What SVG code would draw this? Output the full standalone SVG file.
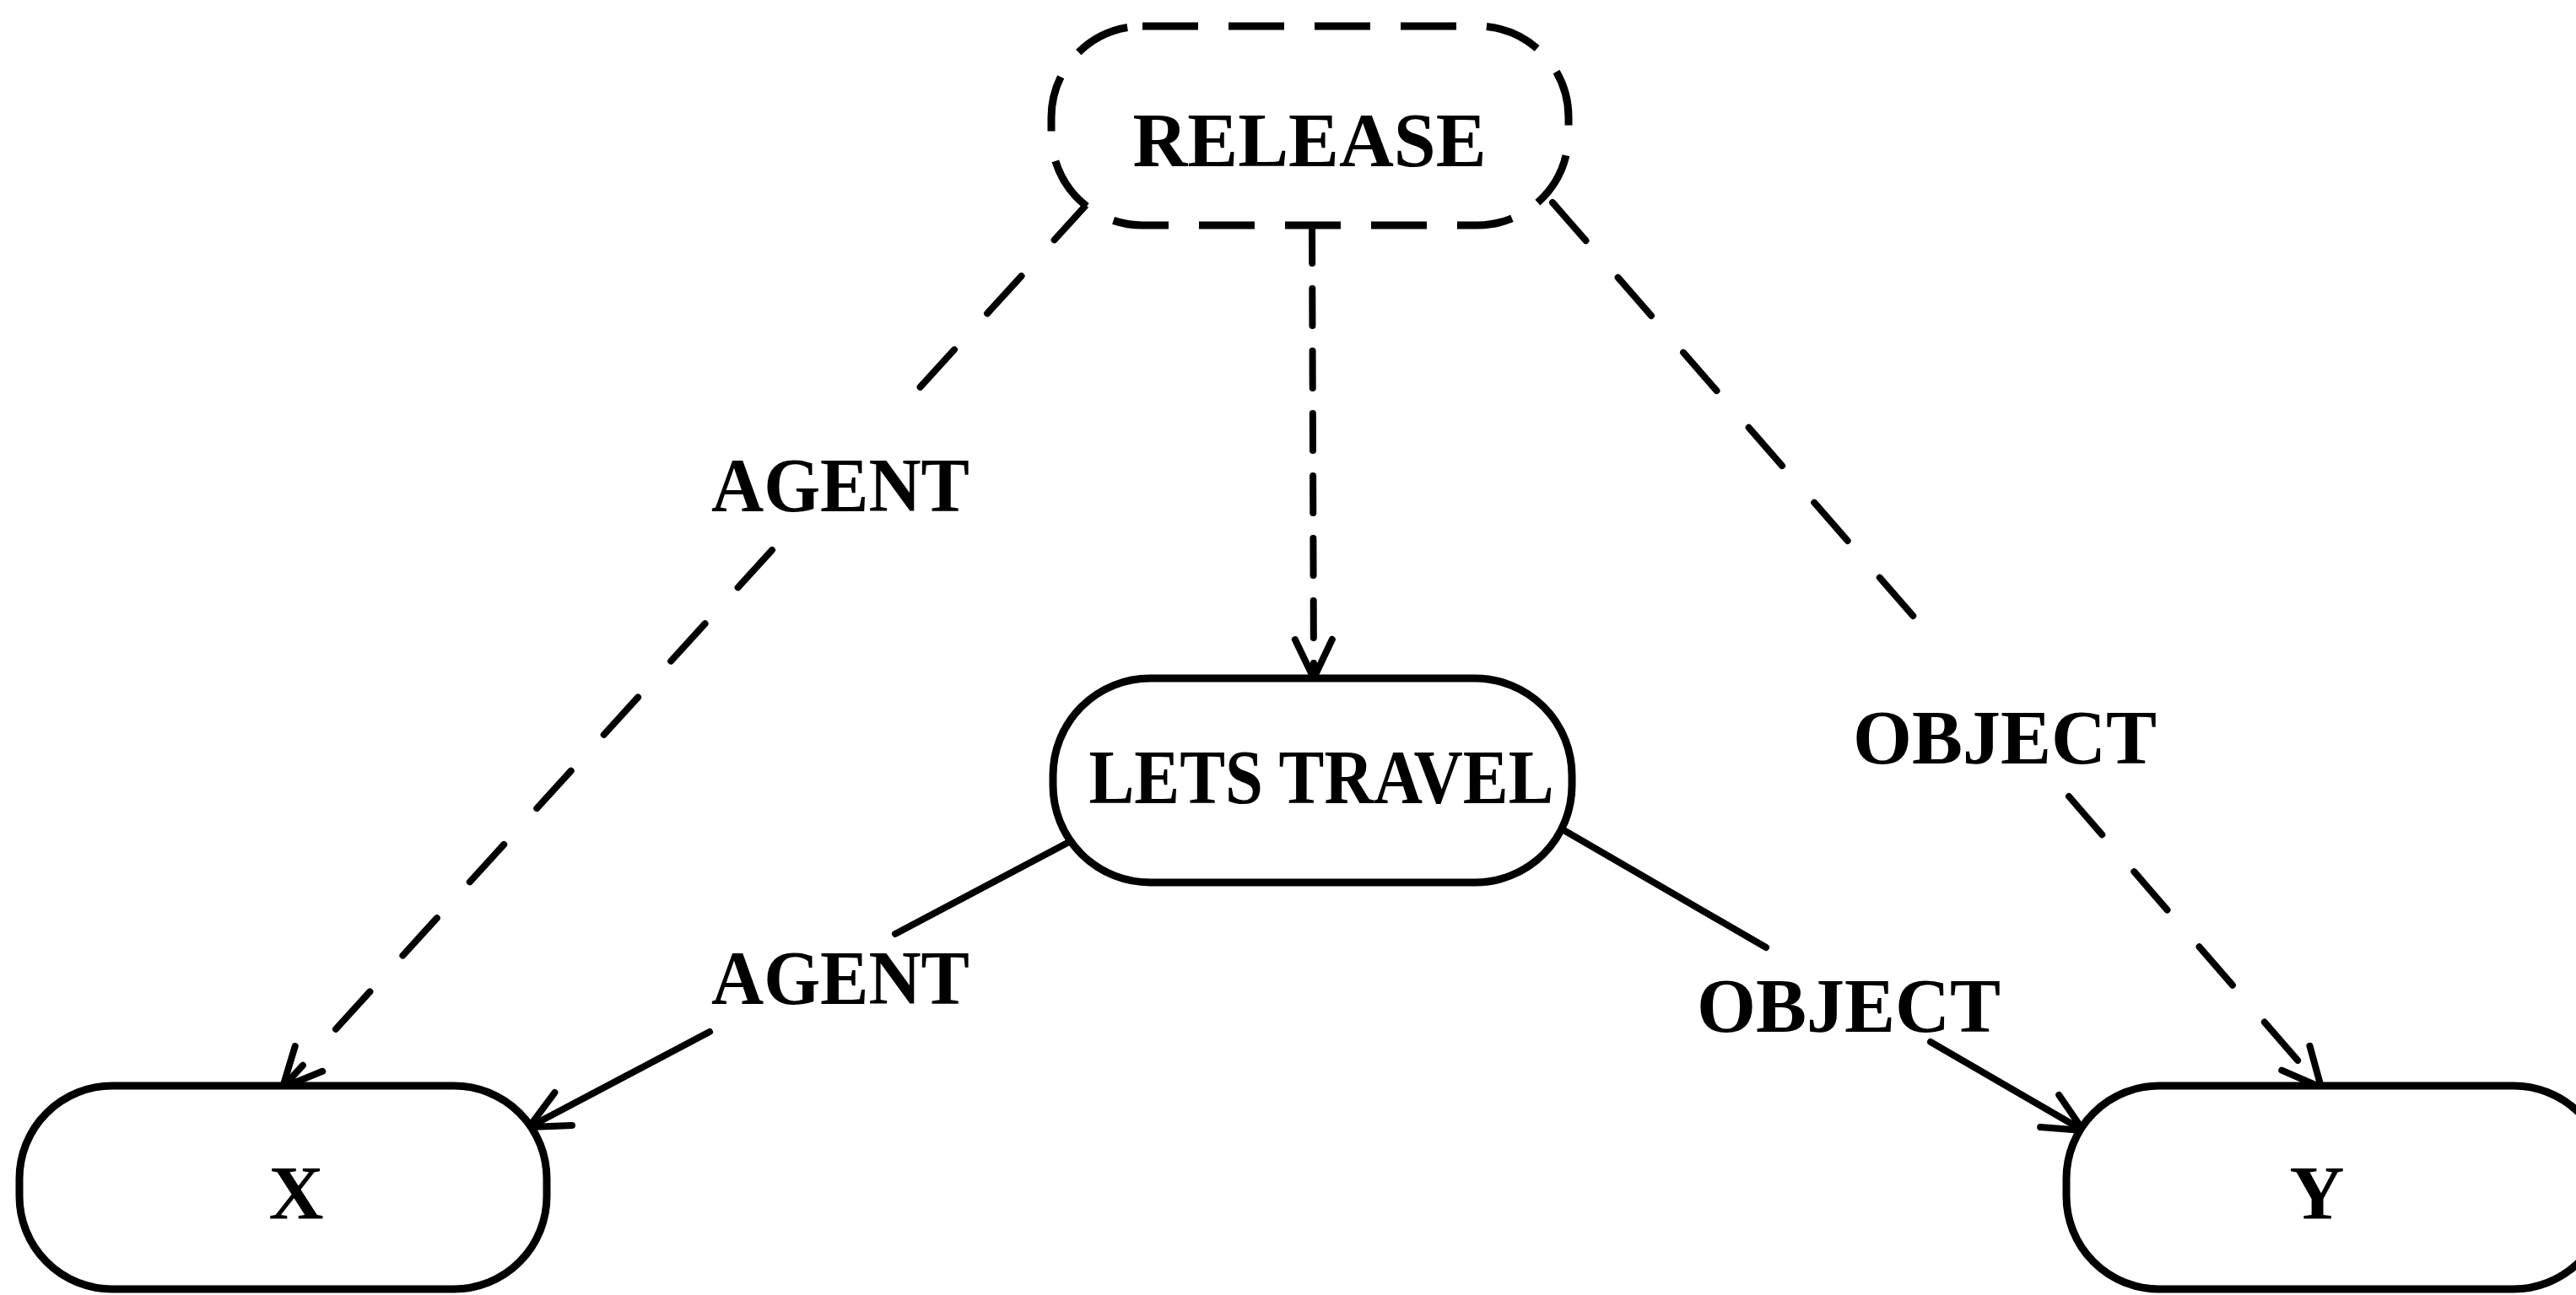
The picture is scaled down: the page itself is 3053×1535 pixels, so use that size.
<svg xmlns="http://www.w3.org/2000/svg" width="3053" height="1535" viewBox="0 0 3053 1535">
  <style>
    .node { fill: #ffffff; stroke: #000000; stroke-width: 9; }
    .dashed { stroke-dasharray: 66 36; }
    .edge { fill: none; stroke: #000000; stroke-width: 8; stroke-linecap: round; }
    .edge-dash { stroke-dasharray: 60 58; }
    .edge-vdash { stroke-dasharray: 44 30; }
    .label { font-family: "Liberation Serif", "Times New Roman", serif; font-weight: bold; font-size: 90px; fill: #000000; text-anchor: middle; }
  </style>
  <defs>
    <marker id="arrow" markerUnits="userSpaceOnUse" markerWidth="90" markerHeight="90" viewBox="-55 -45 65 90" refX="0" refY="0" orient="auto" overflow="visible">
      <path d="M -46 -22 L 0 0 L -46 22" fill="none" stroke="#000000" stroke-width="8" stroke-linecap="round" stroke-linejoin="round" stroke-dasharray="none"/>
    </marker>
  </defs>

  <rect width="3053" height="1535" fill="#ffffff"/>

  <!-- connectors -->
  <g id="edges">
    <!-- RELEASE to X, AGENT (dashed) -->
    <line class="edge edge-dash" x1="1290" y1="240" x2="1074" y2="477"/>
    <line class="edge edge-dash" x1="915" y1="652" x2="335" y2="1289" marker-end="url(#arrow)"/>
    <!-- RELEASE to LETS TRAVEL (dashed) -->
    <line class="edge edge-vdash" x1="1555" y1="268" x2="1557" y2="804" marker-end="url(#arrow)"/>
    <!-- RELEASE to Y, OBJECT (dashed) -->
    <line class="edge edge-dash" x1="1840" y1="240" x2="2276" y2="740"/>
    <line class="edge edge-dash" x1="2452" y1="944" x2="2751" y2="1289" marker-end="url(#arrow)"/>
    <!-- LETS TRAVEL to X, AGENT -->
    <line class="edge" x1="1269" y1="997" x2="1061" y2="1107"/>
    <line class="edge" x1="841" y1="1223" x2="627" y2="1336" marker-end="url(#arrow)"/>
    <!-- LETS TRAVEL to Y, OBJECT -->
    <line class="edge" x1="1855" y1="985" x2="2093" y2="1123"/>
    <line class="edge" x1="2288" y1="1235" x2="2469" y2="1340" marker-end="url(#arrow)"/>
  </g>

  <!-- edge labels -->
  <g id="edge-labels">
    <text class="label" x="996" y="606" textLength="306" lengthAdjust="spacingAndGlyphs">AGENT</text>
    <text class="label" x="996" y="1190" textLength="306" lengthAdjust="spacingAndGlyphs">AGENT</text>
    <text class="label" x="2376" y="905" textLength="360" lengthAdjust="spacingAndGlyphs">OBJECT</text>
    <text class="label" x="2191" y="1223" textLength="360" lengthAdjust="spacingAndGlyphs">OBJECT</text>
  </g>

  <g id="node-release">
    <rect class="node dashed" x="1246" y="31" width="613" height="236" rx="108" ry="108"/>
    <text class="label" x="1552" y="197" textLength="419" lengthAdjust="spacingAndGlyphs">RELEASE</text>
  </g>

  <g id="node-lets-travel">
    <rect class="node" x="1248" y="804" width="615" height="242" rx="115" ry="115"/>
    <text class="label" x="1566" y="952" textLength="551" lengthAdjust="spacingAndGlyphs">LETS TRAVEL</text>
  </g>

  <g id="node-x">
    <rect class="node" x="23" y="1287" width="625" height="241" rx="110" ry="110"/>
    <text class="label" x="351" y="1445">X</text>
  </g>

  <g id="node-y">
    <rect class="node" x="2449" y="1287" width="640" height="241" rx="110" ry="110"/>
    <text class="label" x="2746" y="1445">Y</text>
  </g>
</svg>
